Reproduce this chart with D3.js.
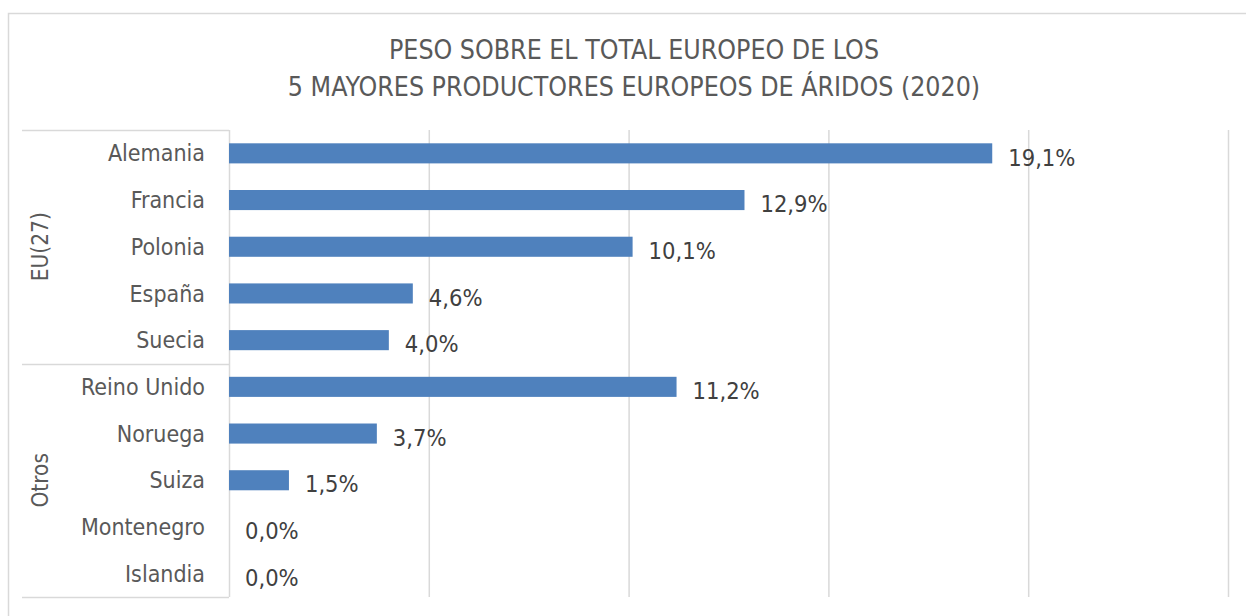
<!DOCTYPE html>
<html>
<head>
<meta charset="utf-8">
<script src="https://cdn.jsdelivr.net/npm/d3@7"></script>
<style>
  body { margin: 0; background: #fff; }
  text { font-family: "DejaVu Sans Condensed", "DejaVu Sans", sans-serif; fill: #595959; }
</style>
</head>
<body>
<div class="chart"></div>
<script>
const w = 1246;
const h = 616;

// data
const countries = ["Alemania", "Francia", "Polonia", "España", "Suecia",
                   "Reino Unido", "Noruega", "Suiza", "Montenegro", "Islandia"];
const groups = ["EU(27)", "EU(27)", "EU(27)", "EU(27)", "EU(27)",
                "Otros", "Otros", "Otros", "Otros", "Otros"];
const shares = [19.1, 12.9, 10.1, 4.6, 4.0, 11.2, 3.7, 1.5, 0.0, 0.0];
const groupNames = ["EU(27)", "Otros"];
const xTicks = [0, 5, 10, 15, 20, 25];
const titleLines = ["PESO SOBRE EL TOTAL EUROPEO DE LOS",
                    "5 MAYORES PRODUCTORES EUROPEOS DE ÁRIDOS (2020)"];

const pLeft = 229, pRight = 1228, pTop = 130, pBottom = 597;

const svg = d3.select(".chart").append("svg")
  .attr("width", w)
  .attr("height", h);

// outer frame
svg.append("rect")
  .attr("x", 8.5).attr("y", 13.5)
  .attr("width", w + 20).attr("height", h + 20)
  .attr("fill", "none")
  .attr("stroke", "#d9d9d9")
  .attr("stroke-width", 1.5);

// title
svg.append("g").selectAll("text")
  .data(titleLines)
  .enter().append("text")
  .attr("x", 634)
  .attr("y", (d, i) => 59 + i * 37)
  .attr("text-anchor", "middle")
  .style("font-size", "26.5px")
  .text(d => d);

const x = d3.scaleLinear().domain([0, 25]).range([pLeft, pRight]);
const y = d3.scaleBand().domain(countries).range([pTop, pBottom]).paddingInner(0.57).paddingOuter(0.285);
const row = d3.scaleBand().domain(countries).range([pTop, pBottom]);

// gridlines
svg.append("g").selectAll("line")
  .data(xTicks)
  .enter().append("line")
  .attr("x1", d => x(d) + 0.5).attr("x2", d => x(d) + 0.5)
  .attr("y1", pTop).attr("y2", pBottom)
  .attr("stroke", "#d9d9d9")
  .attr("stroke-width", 1.5);

// group boxes lines (horizontal separators)
const groupBounds = groupNames.map(g => {
  const rows = countries.filter((c, i) => groups[i] === g);
  return { name: g, y0: row(rows[0]), y1: row(rows[rows.length - 1]) + row.bandwidth() };
});
const hLines = [pTop].concat(groupBounds.map(d => d.y1));
svg.append("g").selectAll("line")
  .data(hLines)
  .enter().append("line")
  .attr("x1", 22).attr("x2", pLeft)
  .attr("y1", d => Math.round(d) + 0.5).attr("y2", d => Math.round(d) + 0.5)
  .attr("stroke", "#d9d9d9")
  .attr("stroke-width", 1.5);

// group labels
svg.append("g").selectAll("text")
  .data(groupBounds)
  .enter().append("text")
  .attr("transform", d => `translate(48,${(d.y0 + d.y1) / 2}) rotate(-90)`)
  .attr("text-anchor", "middle")
  .style("font-size", "22.5px")
  .text(d => d.name);

// category labels
svg.append("g").selectAll("text")
  .data(countries)
  .enter().append("text")
  .attr("x", 205)
  .attr("y", d => row(d) + row.bandwidth() / 2)
  .attr("dy", "0.35em")
  .attr("text-anchor", "end")
  .style("font-size", "23px")
  .text(d => d);

// bars
svg.append("g").selectAll("rect")
  .data(shares)
  .enter().append("rect")
  .attr("x", x(0))
  .attr("y", (d, i) => y(countries[i]))
  .attr("width", d => x(d) - x(0))
  .attr("height", y.bandwidth())
  .attr("fill", "#4f81bd");

// value labels
svg.append("g").selectAll("text")
  .data(shares)
  .enter().append("text")
  .attr("x", d => x(d) + 16)
  .attr("y", (d, i) => row(countries[i]) + row.bandwidth() / 2 + 4)
  .attr("dy", "0.35em")
  .style("font-size", "23.5px")
  .style("fill", "#404040")
  .text(d => d.toFixed(1).replace(".", ",") + "%");
</script>
</body>
</html>
